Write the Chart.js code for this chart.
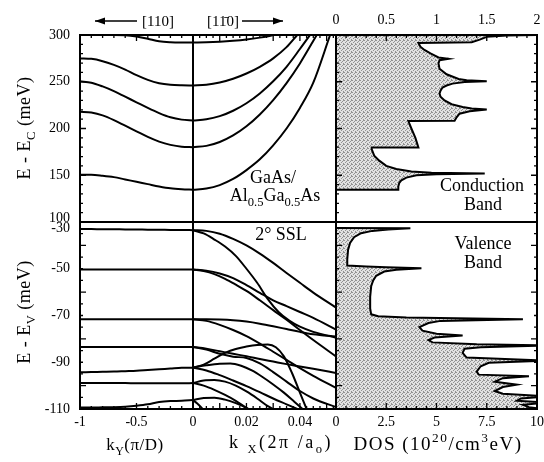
<!DOCTYPE html>
<html><head><meta charset="utf-8">
<script src="https://cdn.jsdelivr.net/npm/chart.js@4.4.1/dist/chart.umd.min.js"></script>
<style>html,body{margin:0;padding:0;background:#fff;overflow:hidden}canvas{display:block}</style>
</head><body>
<canvas id="c" width="544" height="462"></canvas>
<script>
const SERIF = '"Liberation Serif", "DejaVu Serif", serif';

// ---- tick labels ----
const kyTicks = [-1, -0.5, 0];
const kxTicks = [0.02, 0.04];
const dosTicks = [0, 2.5, 5, 7.5, 10];
const dosTopTicks = [0, 0.5, 1, 1.5, 2];
const ecTicks = [100, 150, 200, 250, 300];
const evTicks = [-110, -90, -70, -50, -30];

// ---- conduction subbands along ky (left, top) ----
const kyGrid = [-1, -0.9, -0.8, -0.7, -0.6, -0.5, -0.4, -0.3, -0.2, -0.1, 0];
const cbY1 = [300, 300, 300, 300, 299.8, 298.5, 296, 293.2, 292.2, 292, 292];
const cbY2 = [275, 274.5, 272, 268, 263, 257, 252, 248.5, 246.8, 246.2, 246];
const cbY3 = [250.5, 249, 245, 240, 234, 228, 222, 216.5, 212, 209.5, 208.6];
const cbY4 = [218, 217, 214, 209, 203, 197, 191, 186, 182.5, 180.5, 180];
const cbY5 = [150.5, 150.5, 149.5, 148, 145.5, 143, 140.5, 138, 136, 135, 134.5];

// ---- conduction subbands along kx (middle, top) [kx, E] ----
const cbX1 = [[0,292],[0.005,292.2],[0.01,292.8],[0.015,293.8],[0.02,295.2],[0.025,297.2],[0.0305,300]];
const cbX2 = [[0,246],[0.005,246.8],[0.01,249.2],[0.015,253.2],[0.02,258.8],[0.025,266],[0.03,275],[0.035,287],[0.039,300]];
const cbX3 = [[0,208.6],[0.005,209.8],[0.01,213.2],[0.015,219],[0.02,227],[0.025,237.5],[0.03,250.5],[0.035,266],[0.04,285],[0.0438,300]];
const cbX4 = [[0,180],[0.005,181.4],[0.01,185.6],[0.015,192.6],[0.02,202.4],[0.025,215],[0.03,230.4],[0.035,248.6],[0.04,269.6],[0.0463,300]];
const cbX5 = [[0,134.5],[0.005,135.8],[0.01,139.5],[0.015,146],[0.02,155.5],[0.025,167],[0.03,182],[0.035,200],[0.04,222],[0.045,249],[0.0513,300]];

// ---- valence subbands along ky (left, bottom) ----
const vbY1 = [-33.0, -33.0, -33.1, -33.1, -33.2, -33.2, -33.3, -33.3, -33.4, -33.4, -33.5];
const vbY2 = [-50.3, -50.3, -50.3, -50.3, -50.3, -50.3, -50.3, -50.3, -50.3, -50.3, -50.3];
const vbY3 = [-71.6, -71.6, -71.6, -71.6, -71.6, -71.6, -71.6, -71.6, -71.6, -71.6, -71.6];
const vbY4 = [-83.5, -83.5, -83.5, -83.5, -83.5, -83.5, -83.5, -83.5, -83.5, -83.5, -83.5];
const vbY5 = [-94.3, -94.2, -94.1, -94.0, -93.8, -93.6, -93.3, -93.0, -92.7, -92.4, -92.3];
const vbY6 = [-98.9, -98.9, -98.9, -98.9, -98.9, -99.0, -99.0, -99.0, -99.0, -99.0, -98.9];
const vbY7 = [-109.4, -109.4, -109.3, -109.2, -109.0, -108.6, -108.0, -107.0, -106.6, -106.5, -106.2];

// ---- valence subbands along kx (middle, bottom) [kx, E] ----
const vbX1 = [[0,-33.5],[0.005,-33.8],[0.01,-35],[0.015,-37.2],[0.02,-40],[0.025,-43.5],[0.03,-47.5],[0.035,-51.8],[0.04,-56],[0.045,-60.2],[0.0535,-66.6]];
const vbX2 = [[0,-33.5],[0.004,-34.9],[0.008,-37.5],[0.012,-40.5],[0.016,-44.5],[0.02,-50],[0.024,-56],[0.028,-63],[0.032,-68.5],[0.036,-72.2],[0.04,-74.8],[0.045,-77],[0.0535,-79.5]];
const vbX3 = [[0,-50.3],[0.005,-50.8],[0.01,-52],[0.015,-54],[0.02,-57],[0.025,-60.3],[0.03,-63.5],[0.035,-66],[0.04,-68.5],[0.045,-71],[0.0535,-76]];
const vbX4 = [[0,-50.3],[0.004,-51],[0.008,-52.3],[0.012,-54.3],[0.016,-56.8],[0.02,-59.5],[0.025,-63.5],[0.03,-67.7],[0.035,-71.8],[0.04,-76.2],[0.045,-80.5],[0.0535,-87.5]];
const vbX5 = [[0,-71.6],[0.005,-71.6],[0.01,-71.7],[0.015,-72],[0.02,-72.6],[0.025,-73.5],[0.03,-74.6],[0.035,-75.8],[0.04,-77],[0.045,-78],[0.0535,-79]];
const vbX6 = [[0,-71.6],[0.005,-72.3],[0.01,-74],[0.015,-76.2],[0.02,-78.8],[0.025,-82],[0.03,-85.5],[0.035,-89],[0.04,-92.5],[0.045,-95.8],[0.0535,-101]];
const vbX7 = [[0,-83.5],[0.005,-84.6],[0.01,-86.4],[0.015,-87.6],[0.02,-88.2],[0.025,-90.5],[0.03,-94.2],[0.035,-98.3],[0.04,-102.3],[0.045,-105.5],[0.0535,-109.2]];
const vbX8 = [[0,-83.5],[0.005,-84.2],[0.01,-85.3],[0.015,-86.4],[0.02,-87.4],[0.025,-88.6],[0.03,-89.7],[0.035,-90.8],[0.04,-91.8],[0.045,-92.8],[0.0535,-94.6]];
const vbX9 = [[0,-92.3],[0.004,-91],[0.008,-88.5],[0.012,-86],[0.016,-84.3],[0.02,-83.3],[0.024,-82.6],[0.028,-82.4],[0.031,-83.6],[0.034,-87.5],[0.037,-94.5],[0.04,-103],[0.0425,-110]];
const vbX10 = [[0,-92.3],[0.005,-91.3],[0.01,-90.6],[0.014,-90.5],[0.018,-91.5],[0.022,-93.5],[0.026,-96.3],[0.03,-99.5],[0.034,-103],[0.038,-107],[0.041,-110]];
const vbX11 = [[0,-92.3],[0.005,-93.5],[0.01,-95.5],[0.015,-97.8],[0.02,-100.2],[0.025,-102.8],[0.03,-105.5],[0.035,-108],[0.039,-110]];
const vbX12 = [[0,-98.9],[0.004,-97.8],[0.008,-97.6],[0.012,-98.3],[0.016,-100],[0.02,-102.5],[0.024,-105.5],[0.028,-108.8],[0.03,-110]];
const vbX13 = [[0,-98.9],[0.004,-100],[0.008,-101.8],[0.012,-104],[0.016,-106.5],[0.02,-109.5],[0.0208,-110]];
const vbX14 = [[0,-106.2],[0.004,-105.3],[0.008,-105.2],[0.012,-106],[0.016,-107.5],[0.02,-109.6],[0.0205,-110]];
const vbX15 = [[0,-106.2],[0.0015,-107.5],[0.003,-109.2],[0.0036,-110]];

// ---- density of states [E, DOS] ----
const dosCB = [[134.5,0],[134.5,0.62],[138,0.62],[142,0.63],[144.5,0.65],[147.5,0.7],[150,0.8],[151.2,1.0],[151.9,1.48],[152.6,0.95],[154,0.75],[156.7,0.6],[160,0.5],[165.6,0.43],[171,0.38],[178,0.355],[179.6,0.355],[179.8,0.82],[190,0.79],[200,0.75],[207.9,0.72],[208.2,1.18],[212,1.2],[215.8,1.23],[218.5,1.33],[220.2,1.5],[221.5,1.35],[223,1.26],[226,1.15],[230,1.08],[234,1.04],[237.3,1.03],[240.5,1.04],[243.8,1.06],[246,1.1],[248,1.16],[249.8,1.28],[250.5,1.5],[251.5,1.3],[253,1.22],[258,1.1],[264,1.03],[269.5,1.02],[273,1.03],[274.5,1.12],[276,1.02],[280.3,0.94],[284,0.88],[287.5,0.84],[291.5,0.82],[292.3,1.35],[295,1.43],[298,1.5],[299.5,1.7],[300,2.0],[300,0]];
const dosVB = [[-32.6,0],[-32.7,3.7],[-33.2,2.6],[-33.8,1.8],[-34.8,1.25],[-36.5,0.9],[-39,0.7],[-42,0.6],[-46,0.56],[-48.6,0.56],[-49.0,1.5],[-49.4,2.5],[-49.8,4.25],[-50.4,3.0],[-51.2,2.4],[-53,2.0],[-55,1.85],[-57.5,1.75],[-62,1.7],[-67,1.7],[-69.5,1.75],[-70.3,2.1],[-70.9,3.5],[-71.6,9.3],[-72.3,5.2],[-73.2,4.6],[-75.0,4.15],[-76.5,4.3],[-77.8,5.0],[-78.6,6.3],[-79.4,4.9],[-80.5,4.6],[-81.5,4.8],[-82.3,7.0],[-82.8,10.5],[-83.6,7.2],[-84.2,6.4],[-86.0,6.3],[-88.0,6.5],[-89.3,10.5],[-90.2,7.6],[-91.7,7.2],[-94.0,7.0],[-95.3,7.1],[-96.0,9.6],[-96.8,8.3],[-98.3,7.9],[-99.6,9.0],[-100.6,8.3],[-102.3,7.9],[-103.5,8.3],[-104.6,10.5],[-105.5,9.2],[-106.5,9.0],[-107.3,10.5],[-108.2,9.3],[-109.2,9.6],[-110,10.3],[-110,0]];

// ---- build datasets ----
const datasets = [];
function addBand(pairs, xId, yId) {
  datasets.push({data: pairs.map(p => ({x: p[0], y: p[1]})), xAxisID: xId, yAxisID: yId,
    showLine: true, pointRadius: 0, borderColor: '#000', borderWidth: 2,
    cubicInterpolationMode: 'monotone', fill: false});
}
function addDos(pairs, xId, yId) {
  datasets.push({data: pairs.map(p => ({x: p[1], y: p[0]})), xAxisID: xId, yAxisID: yId,
    showLine: true, pointRadius: 0, borderColor: '#000', borderWidth: 2, tension: 0,
    fill: false, dosFill: true});
}
addDos(dosCB, 'xRt', 'yT');
addDos(dosVB, 'xR', 'yB');
[cbY1, cbY2, cbY3, cbY4, cbY5].forEach(a => addBand(kyGrid.map((k, i) => [k, a[i]]), 'xL', 'yT'));
[vbY1, vbY2, vbY3, vbY4, vbY5, vbY6, vbY7].forEach(a => addBand(kyGrid.map((k, i) => [k, a[i]]), 'xL', 'yB'));
[cbX1, cbX2, cbX3, cbX4, cbX5].forEach(a => addBand(a, 'xM', 'yT'));
[vbX1, vbX2, vbX3, vbX4, vbX5, vbX6, vbX7, vbX8, vbX9, vbX10, vbX11, vbX12, vbX13, vbX14, vbX15].forEach(a => addBand(a, 'xM', 'yB'));

// ---- scales ----
const tickFont = {family: SERIF, size: 14};
const fmt = v => String(v);
function yScale(min, max, tickArr) {
  return {type: 'linear', position: 'left', stack: 'v', stackWeight: 1, min, max,
    grid: {display: false, drawTicks: false}, border: {display: false},
    ticks: {font: tickFont, color: '#000', padding: 10, autoSkip: false,
      callback: v => (v === 100 || v === -30) ? '' : fmt(v)},
    afterBuildTicks: s => { s.ticks = tickArr.map(v => ({value: v})); },
    afterFit: s => { s.width = 80; s.paddingTop = 0; s.paddingBottom = 0; }};
}
function xScale(pos, stack, weight, min, max, tickArr, h, show) {
  return {type: 'linear', position: pos, stack, stackWeight: weight, min, max,
    grid: {display: false, drawTicks: false}, border: {display: false},
    ticks: {display: show, font: tickFont, color: '#000', padding: pos === 'top' ? 6 : 5,
      autoSkip: false, maxRotation: 0, minRotation: 0, callback: fmt},
    afterBuildTicks: s => { s.ticks = tickArr.map(v => ({value: v})); },
    afterFit: s => { s.height = h; s.paddingLeft = 0; s.paddingRight = 0; }};
}

// ---- stipple pattern ----
function makeStipple(ctx) {
  const c = document.createElement('canvas'); c.width = 4; c.height = 4;
  const g = c.getContext('2d');
  g.fillStyle = '#e2e2e2'; g.fillRect(0, 0, 4, 4);
  g.fillStyle = '#939393';
  [[0,0],[2,1],[1,2],[3,3],[3,0]].forEach(p => g.fillRect(p[0], p[1], 1, 1));
  return ctx.createPattern(c, 'repeat');
}

const dosFillPlugin = {
  id: 'dosFill',
  beforeDatasetsDraw(chart) {
    const ctx = chart.ctx;
    const pat = makeStipple(ctx);
    chart.data.datasets.forEach((ds, i) => {
      if (!ds.dosFill) return;
      const meta = chart.getDatasetMeta(i);
      const xs = meta.xScale, ys = meta.yScale;
      ctx.save();
      ctx.beginPath(); ctx.rect(xs.left, ys.top, xs.right - xs.left, ys.bottom - ys.top); ctx.clip();
      ctx.beginPath();
      meta.data.forEach((pt, j) => j ? ctx.lineTo(pt.x, pt.y) : ctx.moveTo(pt.x, pt.y));
      ctx.closePath();
      ctx.fillStyle = pat; ctx.fill();
      ctx.restore();
    });
  }
};

function richWidth(ctx, parts, size, ls) {
  let w = 0;
  parts.forEach(p => { ctx.font = (p.s ? size * 0.7 : size) + 'px ' + SERIF; ctx.letterSpacing = (ls || 0) + 'px'; w += ctx.measureText(p.t).width; });
  return w;
}
function drawRich(ctx, parts, x, y, size, align, ls) {
  const w = richWidth(ctx, parts, size, ls);
  let cx = align === 'center' ? x - w / 2 : (align === 'right' ? x - w : x);
  ctx.textAlign = 'left'; ctx.textBaseline = 'alphabetic';
  parts.forEach(p => {
    const fs = p.s ? size * 0.7 : size;
    ctx.font = fs + 'px ' + SERIF;
    ctx.letterSpacing = (ls || 0) + 'px';
    const dy = p.s === 'sub' ? size * 0.3 : (p.s === 'sup' ? -size * 0.42 : 0);
    ctx.fillText(p.t, cx, y + dy);
    cx += ctx.measureText(p.t).width;
  });
  ctx.letterSpacing = '0px';
}

const decorPlugin = {
  id: 'decor',
  afterDatasetsDraw(chart) {
    const ctx = chart.ctx, s = chart.scales;
    const L = s.xL.left, M = s.xM.left, R = s.xR.left, E = s.xR.right;
    const T = s.yT.top, D = s.yB.top, B = s.yB.bottom;
    ctx.save();
    ctx.strokeStyle = '#000'; ctx.lineCap = 'butt';
    ctx.lineWidth = 1.3;
    ctx.beginPath();
    function tx(scale, min, max, step, major, yEdge, dir) {
      const n = Math.round((max - min) / step);
      for (let i = 0; i <= n; i++) {
        const v = min + i * step;
        const x = scale.getPixelForValue(v);
        const isMaj = Math.abs(v / major - Math.round(v / major)) < 1e-6;
        const len = isMaj ? 6 : 3;
        ctx.moveTo(x, yEdge); ctx.lineTo(x, yEdge + dir * len);
      }
    }
    function ty(scale, min, max, step, major, xEdge, dir) {
      const n = Math.round((max - min) / step);
      for (let i = 0; i <= n; i++) {
        const v = min + i * step;
        const y = scale.getPixelForValue(v);
        const isMaj = Math.abs(v / major - Math.round(v / major)) < 1e-6;
        const len = isMaj ? 6 : 3;
        ctx.moveTo(xEdge, y); ctx.lineTo(xEdge + dir * len, y);
      }
    }
    tx(s.xL, -1, 0, 0.1, 0.5, B, -1);
    tx(s.xM, 0, 0.0525, 0.0025, 0.01, B, -1);
    tx(s.xR, 0, 10, 0.5, 2.5, B, -1);
    tx(s.xL, -1, 0, 0.1, 0.5, T, 1);
    tx(s.xM, 0, 0.0525, 0.0025, 0.01, T, 1);
    tx(s.xRt, 0, 2, 0.1, 0.5, T, 1);
    ty(s.yT, 100, 300, 10, 50, L, 1);
    ty(s.yB, -110, -30, 5, 20, L, 1);
    ty(s.yT, 100, 300, 10, 50, R, 1);
    ty(s.yB, -110, -30, 5, 20, R, 1);
    ty(s.yT, 100, 300, 10, 50, E, -1);
    ty(s.yB, -110, -30, 5, 20, E, -1);
    ctx.stroke();
    ctx.lineWidth = 2;
    ctx.strokeRect(L, T, E - L, B - T);
    ctx.beginPath();
    ctx.moveTo(M, T); ctx.lineTo(M, B);
    ctx.moveTo(R, T); ctx.lineTo(R, B);
    ctx.moveTo(L, D); ctx.lineTo(E, D);
    ctx.stroke();
    ctx.restore();
  },
  afterDraw(chart) {
    const ctx = chart.ctx, s = chart.scales;
    ctx.save();
    ctx.fillStyle = '#000'; ctx.strokeStyle = '#000';
    ctx.font = '14px ' + SERIF; ctx.textAlign = 'right'; ctx.textBaseline = 'middle';
    ctx.fillText('100', 70, s.yT.getPixelForValue(100) - 4);
    ctx.fillText('-30', 70, s.yB.getPixelForValue(-30) + 6);
    ctx.save(); ctx.translate(24, 128); ctx.rotate(-Math.PI / 2);
    drawRich(ctx, [{t: 'E - E'}, {t: 'C', s: 'sub'}, {t: ' (meV)'}], 0, 6, 18, 'center', 0.5);
    ctx.restore();
    ctx.save(); ctx.translate(24, 312); ctx.rotate(-Math.PI / 2);
    drawRich(ctx, [{t: 'E - E'}, {t: 'V', s: 'sub'}, {t: ' (meV)'}], 0, 6, 18, 'center', 0.5);
    ctx.restore();
    drawRich(ctx, [{t: 'k'}, {t: 'Y', s: 'sub'}, {t: '(π/D)'}], 135, 450, 17, 'center', 0.5);
    drawRich(ctx, [{t: 'k '}, {t: 'X', s: 'sub'}, {t: '(2π /a'}, {t: 'o', s: 'sub'}, {t: ')'}], 281, 448, 18, 'center', 2.5);
    drawRich(ctx, [{t: 'DOS (10'}, {t: '20', s: 'sup'}, {t: '/cm'}, {t: '3', s: 'sup'}, {t: 'eV)'}], 438, 450, 19, 'center', 1.5);
    drawRich(ctx, [{t: 'GaAs/'}], 273, 183, 18, 'center');
    drawRich(ctx, [{t: 'Al'}, {t: '0.5', s: 'sub'}, {t: 'Ga'}, {t: '0.5', s: 'sub'}, {t: 'As'}], 275, 201, 18, 'center');
    drawRich(ctx, [{t: '2° SSL'}], 281, 240, 18, 'center');
    drawRich(ctx, [{t: 'Conduction'}], 482, 191, 18, 'center');
    drawRich(ctx, [{t: 'Band'}], 483, 210, 18, 'center');
    drawRich(ctx, [{t: 'Valence'}], 483, 249, 18, 'center');
    drawRich(ctx, [{t: 'Band'}], 483, 268, 18, 'center');
    function arrow(x1, y, x2) {
      ctx.lineWidth = 1.5;
      ctx.beginPath(); ctx.moveTo(x1, y); ctx.lineTo(x2, y); ctx.stroke();
      const d = Math.sign(x2 - x1);
      ctx.beginPath(); ctx.moveTo(x2, y); ctx.lineTo(x2 - d * 10, y - 3.5); ctx.lineTo(x2 - d * 10, y + 3.5); ctx.closePath(); ctx.fill();
    }
    arrow(137, 21, 95);
    drawRich(ctx, [{t: '[110]'}], 142, 26, 15, 'left');
    drawRich(ctx, [{t: '[11\u03040]'}], 207, 26, 15, 'left');
    arrow(242, 21, 283);
    ctx.restore();
  }
};

Chart.defaults.font.family = SERIF;
new Chart(document.getElementById('c'), {
  type: 'scatter',
  data: {datasets},
  options: {
    responsive: false, animation: false, devicePixelRatio: 1,
    layout: {padding: {left: 0, right: 7, top: 0, bottom: 0}},
    plugins: {legend: {display: false}, tooltip: {enabled: false}},
    scales: {
      // left and top boxes are laid out in reverse order of definition
      yB: yScale(-110, -30, evTicks),
      yT: yScale(100, 300, ecTicks),
      xL: xScale('bottom', 'h', 113, -1, 0, kyTicks, 53, true),
      xM: xScale('bottom', 'h', 143, 0, 0.0535, kxTicks, 53, true),
      xR: xScale('bottom', 'h', 201, 0, 10, dosTicks, 53, true),
      xRt: xScale('top', 'ht', 201, 0, 2, dosTopTicks, 35, true),
      xMt: xScale('top', 'ht', 143, 0, 0.0535, [], 35, false),
      xLt: xScale('top', 'ht', 113, -1, 0, [], 35, false)
    }
  },
  plugins: [dosFillPlugin, decorPlugin]
});
</script></body></html>
